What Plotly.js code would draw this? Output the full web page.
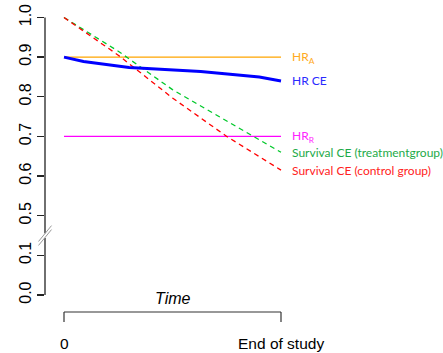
<!DOCTYPE html>
<html><head><meta charset="utf-8">
<script src="https://cdn.plot.ly/plotly-3.0.1.min.js"></script>
<style>html,body{margin:0;padding:0;background:#fff;}#chart{width:443px;height:353px;}</style>
</head><body><div id="chart"></div>
<script>
// ---- data ----
const yTickValues = [0.0, 0.1, 0.5, 0.6, 0.7, 0.8, 0.9, 1.0];
const yTickLabels = ['0.0', '0.1', '0.5', '0.6', '0.7', '0.8', '0.9', '1.0'];
const xTickLabels = ['0', 'End of study'];
const hrA = 0.9;
const hrR = 0.7;
const hrCETime = [0, 0.09, 0.3, 0.5, 0.63, 0.9, 1.0];
const hrCE = [0.900, 0.889, 0.874, 0.868, 0.864, 0.850, 0.840];
const survTime = [0, 0.25, 0.5, 0.75, 1.0];
const survTreatment = [1.0, 0.915, 0.818, 0.740, 0.660];
const survControl = [1.0, 0.905, 0.797, 0.700, 0.615];

// broken axis mapping: 0..0.1 below break, 0.5..1.0 above
function u(v) { return v <= 0.1 ? v * 10 : 2 + (v - 0.5) * 10; }
const mapArr = a => a.map(u);

const cOrange = '#FFA500', cBlue = '#0000FF', cMag = '#FF00FF', cGreen = '#00C82A', cRed = '#FF0000';

const traces = [
  {x: [0, 1], y: mapArr([hrA, hrA]), mode: 'lines', line: {color: cOrange, width: 1.3}},
  {x: [0, 1], y: mapArr([hrR, hrR]), mode: 'lines', line: {color: cMag, width: 1.3}},
  {x: survTime, y: mapArr(survTreatment), mode: 'lines', line: {color: cGreen, width: 1.3, dash: '5px,4px'}},
  {x: survTime, y: mapArr(survControl), mode: 'lines', line: {color: cRed, width: 1.3, dash: '5px,4px'}},
  {x: hrCETime, y: mapArr(hrCE), mode: 'lines', line: {color: cBlue, width: 3}}
];

const plotW = 255, plotH = 292;
const brk = 1.5;
const shapes = [
  {type: 'line', xref: 'paper', yref: 'y', x0: 0, x1: 0, y0: u(0), y1: brk - 0.06, line: {color: '#222', width: 1.3}},
  {type: 'line', xref: 'paper', yref: 'y', x0: 0, x1: 0, y0: brk + 0.06, y1: u(1.0), line: {color: '#222', width: 1.3}},
  {type: 'line', xref: 'paper', yref: 'y', x0: -6.5 / plotW, x1: 6.5 / plotW, y0: brk - 0.05 - 0.2, y1: brk - 0.05 + 0.2, line: {color: '#999', width: 1}},
  {type: 'line', xref: 'paper', yref: 'y', x0: -6.5 / plotW, x1: 6.5 / plotW, y0: brk + 0.05 - 0.2, y1: brk + 0.05 + 0.2, line: {color: '#999', width: 1}},
  {type: 'line', xref: 'x', yref: 'paper', x0: 0, x1: 1, y0: -10 / plotH, y1: -10 / plotH, line: {color: '#333', width: 1.2}},
  {type: 'line', xref: 'x', yref: 'paper', x0: 0, x1: 0, y0: -10 / plotH, y1: -20 / plotH, line: {color: '#333', width: 1.2}},
  {type: 'line', xref: 'x', yref: 'paper', x0: 1, x1: 1, y0: -10 / plotH, y1: -20 / plotH, line: {color: '#333', width: 1.2}}
];

const lblFont = (c) => ({family: 'Lato, sans-serif', size: 12, color: c});
function rightLabel(text, v, c) {
  return {x: 1, y: u(v), xref: 'x', yref: 'y', text: text, showarrow: false, xanchor: 'left', yanchor: 'middle', xshift: 9, font: lblFont(c)};
}
const annotations = [
  rightLabel('HR<sub>A</sub>', hrA, '#FFAA22'),
  rightLabel('HR CE', hrCE[hrCE.length - 1], '#2A2AFF'),
  rightLabel('HR<sub>R</sub>', hrR, '#FF22FF'),
  rightLabel('Survival CE (treatmentgroup)', survTreatment[survTreatment.length - 1], '#1DAA48'),
  rightLabel('Survival CE (control group)', survControl[survControl.length - 1], '#FF2222'),
  {x: 0.5, y: 4 / plotH, xref: 'x', yref: 'paper', text: '<i>Time</i>', showarrow: false, yanchor: 'middle',
   font: {family: 'Liberation Sans, Arial, sans-serif', size: 16, color: '#000'}},
  {x: 0, y: -41.5 / plotH, xref: 'x', yref: 'paper', text: xTickLabels[0], showarrow: false, yanchor: 'middle',
   font: {family: 'Liberation Sans, Arial, sans-serif', size: 15.5, color: '#000'}},
  {x: 1, y: -41.5 / plotH, xref: 'x', yref: 'paper', text: xTickLabels[1], showarrow: false, yanchor: 'middle',
   font: {family: 'Liberation Sans, Arial, sans-serif', size: 15.5, color: '#000'}}
];

const layout = {
  width: 443, height: 353,
  margin: {l: 45, r: 143, t: 10, b: 51},
  paper_bgcolor: '#fff', plot_bgcolor: '#fff',
  showlegend: false,
  xaxis: {range: [-19 / 217, 1 + 19 / 217], showgrid: false, zeroline: false, showline: false, showticklabels: false, ticks: ''},
  yaxis: {range: [-7 / 39.64, 7 + 7.5 / 39.64], showgrid: false, zeroline: false, showline: false,
    tickmode: 'array', tickvals: mapArr(yTickValues), ticktext: yTickLabels,
    ticks: 'outside', ticklen: 7, tickwidth: 1.3, tickcolor: '#222', tickangle: -90,
    tickfont: {family: 'Liberation Sans, Arial, sans-serif', size: 16, color: '#000'}},
  shapes: shapes,
  annotations: annotations
};

Plotly.newPlot('chart', traces, layout, {staticPlot: true, displayModeBar: false});
</script>
</body></html>
